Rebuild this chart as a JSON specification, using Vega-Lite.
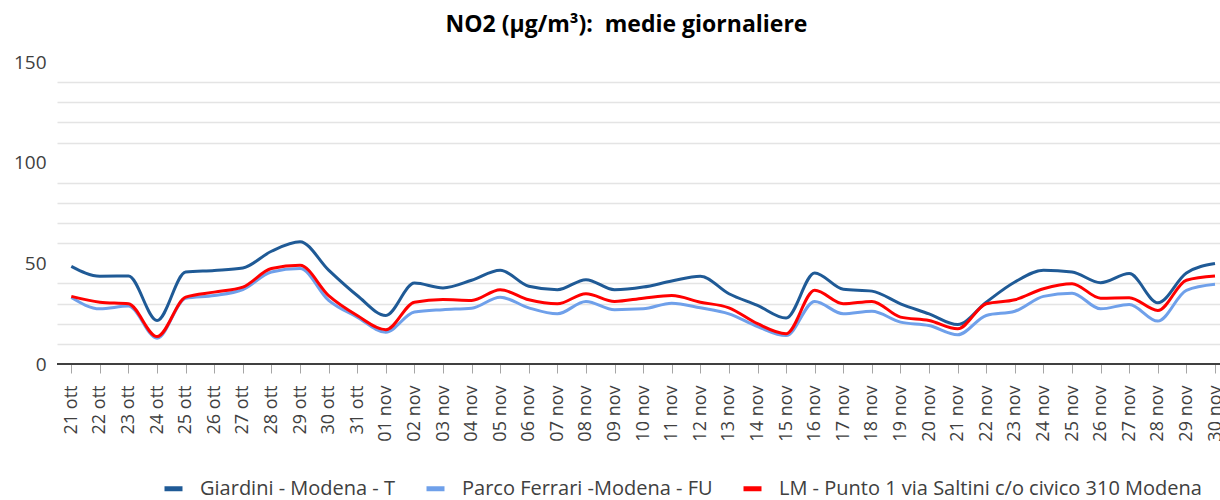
{
  "$schema": "https://vega.github.io/schema/vega-lite/v6.json",
  "autosize": {"type": "none"},
  "width": 1163,
  "height": 302,
  "padding": {"left": 57, "top": 62, "right": 0, "bottom": 136},
  "background": "white",
  "config": {"font": "Open Sans", "view": {"stroke": null}},
  "title": {"text": "NO2 (µg/m³): \u00a0medie giornaliere", "fontSize": 23, "fontWeight": "bold", "color": "#000000", "anchor": "middle", "dx": -12, "offset": 16},
  "resolve": {"axis": {"y": "independent"}},
  "data": {"values": [
    {"d": "21 ott", "s": "Giardini - Modena - T", "v": 48.5},
    {"d": "22 ott", "s": "Giardini - Modena - T", "v": 43.6},
    {"d": "23 ott", "s": "Giardini - Modena - T", "v": 43.7},
    {"d": "24 ott", "s": "Giardini - Modena - T", "v": 21.6},
    {"d": "25 ott", "s": "Giardini - Modena - T", "v": 45.7},
    {"d": "26 ott", "s": "Giardini - Modena - T", "v": 46.5},
    {"d": "27 ott", "s": "Giardini - Modena - T", "v": 47.7},
    {"d": "28 ott", "s": "Giardini - Modena - T", "v": 56},
    {"d": "29 ott", "s": "Giardini - Modena - T", "v": 60.7},
    {"d": "30 ott", "s": "Giardini - Modena - T", "v": 46.6},
    {"d": "31 ott", "s": "Giardini - Modena - T", "v": 34},
    {"d": "01 nov", "s": "Giardini - Modena - T", "v": 24.1},
    {"d": "02 nov", "s": "Giardini - Modena - T", "v": 40.2},
    {"d": "03 nov", "s": "Giardini - Modena - T", "v": 37.8},
    {"d": "04 nov", "s": "Giardini - Modena - T", "v": 41.6},
    {"d": "05 nov", "s": "Giardini - Modena - T", "v": 46.6},
    {"d": "06 nov", "s": "Giardini - Modena - T", "v": 38.6},
    {"d": "07 nov", "s": "Giardini - Modena - T", "v": 36.9},
    {"d": "08 nov", "s": "Giardini - Modena - T", "v": 41.9},
    {"d": "09 nov", "s": "Giardini - Modena - T", "v": 36.9},
    {"d": "10 nov", "s": "Giardini - Modena - T", "v": 38.2},
    {"d": "11 nov", "s": "Giardini - Modena - T", "v": 41.2},
    {"d": "12 nov", "s": "Giardini - Modena - T", "v": 43.6},
    {"d": "13 nov", "s": "Giardini - Modena - T", "v": 34.9},
    {"d": "14 nov", "s": "Giardini - Modena - T", "v": 29.1},
    {"d": "15 nov", "s": "Giardini - Modena - T", "v": 22.8},
    {"d": "16 nov", "s": "Giardini - Modena - T", "v": 45.2},
    {"d": "17 nov", "s": "Giardini - Modena - T", "v": 37.1},
    {"d": "18 nov", "s": "Giardini - Modena - T", "v": 36.2},
    {"d": "19 nov", "s": "Giardini - Modena - T", "v": 29.9},
    {"d": "20 nov", "s": "Giardini - Modena - T", "v": 24.9},
    {"d": "21 nov", "s": "Giardini - Modena - T", "v": 19.6},
    {"d": "22 nov", "s": "Giardini - Modena - T", "v": 30.7},
    {"d": "23 nov", "s": "Giardini - Modena - T", "v": 40.7},
    {"d": "24 nov", "s": "Giardini - Modena - T", "v": 46.6},
    {"d": "25 nov", "s": "Giardini - Modena - T", "v": 45.7},
    {"d": "26 nov", "s": "Giardini - Modena - T", "v": 40.4},
    {"d": "27 nov", "s": "Giardini - Modena - T", "v": 44.9},
    {"d": "28 nov", "s": "Giardini - Modena - T", "v": 30.4},
    {"d": "29 nov", "s": "Giardini - Modena - T", "v": 45.2},
    {"d": "30 nov", "s": "Giardini - Modena - T", "v": 49.9},
    {"d": "21 ott", "s": "Parco Ferrari -Modena - FU", "v": 33},
    {"d": "22 ott", "s": "Parco Ferrari -Modena - FU", "v": 27.4},
    {"d": "23 ott", "s": "Parco Ferrari -Modena - FU", "v": 28.8},
    {"d": "24 ott", "s": "Parco Ferrari -Modena - FU", "v": 12.8},
    {"d": "25 ott", "s": "Parco Ferrari -Modena - FU", "v": 32.7},
    {"d": "26 ott", "s": "Parco Ferrari -Modena - FU", "v": 34},
    {"d": "27 ott", "s": "Parco Ferrari -Modena - FU", "v": 37},
    {"d": "28 ott", "s": "Parco Ferrari -Modena - FU", "v": 45.7},
    {"d": "29 ott", "s": "Parco Ferrari -Modena - FU", "v": 47.4},
    {"d": "30 ott", "s": "Parco Ferrari -Modena - FU", "v": 31.6},
    {"d": "31 ott", "s": "Parco Ferrari -Modena - FU", "v": 23.3},
    {"d": "01 nov", "s": "Parco Ferrari -Modena - FU", "v": 15.8},
    {"d": "02 nov", "s": "Parco Ferrari -Modena - FU", "v": 25.8},
    {"d": "03 nov", "s": "Parco Ferrari -Modena - FU", "v": 27},
    {"d": "04 nov", "s": "Parco Ferrari -Modena - FU", "v": 27.7},
    {"d": "05 nov", "s": "Parco Ferrari -Modena - FU", "v": 33.2},
    {"d": "06 nov", "s": "Parco Ferrari -Modena - FU", "v": 27.9},
    {"d": "07 nov", "s": "Parco Ferrari -Modena - FU", "v": 24.9},
    {"d": "08 nov", "s": "Parco Ferrari -Modena - FU", "v": 31.1},
    {"d": "09 nov", "s": "Parco Ferrari -Modena - FU", "v": 27},
    {"d": "10 nov", "s": "Parco Ferrari -Modena - FU", "v": 27.4},
    {"d": "11 nov", "s": "Parco Ferrari -Modena - FU", "v": 30.2},
    {"d": "12 nov", "s": "Parco Ferrari -Modena - FU", "v": 27.9},
    {"d": "13 nov", "s": "Parco Ferrari -Modena - FU", "v": 24.9},
    {"d": "14 nov", "s": "Parco Ferrari -Modena - FU", "v": 18.6},
    {"d": "15 nov", "s": "Parco Ferrari -Modena - FU", "v": 14.1},
    {"d": "16 nov", "s": "Parco Ferrari -Modena - FU", "v": 31.1},
    {"d": "17 nov", "s": "Parco Ferrari -Modena - FU", "v": 24.9},
    {"d": "18 nov", "s": "Parco Ferrari -Modena - FU", "v": 26.2},
    {"d": "19 nov", "s": "Parco Ferrari -Modena - FU", "v": 20.8},
    {"d": "20 nov", "s": "Parco Ferrari -Modena - FU", "v": 19.1},
    {"d": "21 nov", "s": "Parco Ferrari -Modena - FU", "v": 14.5},
    {"d": "22 nov", "s": "Parco Ferrari -Modena - FU", "v": 24.1},
    {"d": "23 nov", "s": "Parco Ferrari -Modena - FU", "v": 26.2},
    {"d": "24 nov", "s": "Parco Ferrari -Modena - FU", "v": 33.6},
    {"d": "25 nov", "s": "Parco Ferrari -Modena - FU", "v": 35.2},
    {"d": "26 nov", "s": "Parco Ferrari -Modena - FU", "v": 27.4},
    {"d": "27 nov", "s": "Parco Ferrari -Modena - FU", "v": 29.6},
    {"d": "28 nov", "s": "Parco Ferrari -Modena - FU", "v": 21.3},
    {"d": "29 nov", "s": "Parco Ferrari -Modena - FU", "v": 36.6},
    {"d": "30 nov", "s": "Parco Ferrari -Modena - FU", "v": 39.6},
    {"d": "21 ott", "s": "LM - Punto 1 via Saltini c/o civico 310 Modena", "v": 33.6},
    {"d": "22 ott", "s": "LM - Punto 1 via Saltini c/o civico 310 Modena", "v": 30.7},
    {"d": "23 ott", "s": "LM - Punto 1 via Saltini c/o civico 310 Modena", "v": 29.9},
    {"d": "24 ott", "s": "LM - Punto 1 via Saltini c/o civico 310 Modena", "v": 13.6},
    {"d": "25 ott", "s": "LM - Punto 1 via Saltini c/o civico 310 Modena", "v": 33.2},
    {"d": "26 ott", "s": "LM - Punto 1 via Saltini c/o civico 310 Modena", "v": 35.7},
    {"d": "27 ott", "s": "LM - Punto 1 via Saltini c/o civico 310 Modena", "v": 38.2},
    {"d": "28 ott", "s": "LM - Punto 1 via Saltini c/o civico 310 Modena", "v": 47.4},
    {"d": "29 ott", "s": "LM - Punto 1 via Saltini c/o civico 310 Modena", "v": 49},
    {"d": "30 ott", "s": "LM - Punto 1 via Saltini c/o civico 310 Modena", "v": 34},
    {"d": "31 ott", "s": "LM - Punto 1 via Saltini c/o civico 310 Modena", "v": 24.1},
    {"d": "01 nov", "s": "LM - Punto 1 via Saltini c/o civico 310 Modena", "v": 17},
    {"d": "02 nov", "s": "LM - Punto 1 via Saltini c/o civico 310 Modena", "v": 30.7},
    {"d": "03 nov", "s": "LM - Punto 1 via Saltini c/o civico 310 Modena", "v": 32},
    {"d": "04 nov", "s": "LM - Punto 1 via Saltini c/o civico 310 Modena", "v": 31.6},
    {"d": "05 nov", "s": "LM - Punto 1 via Saltini c/o civico 310 Modena", "v": 36.9},
    {"d": "06 nov", "s": "LM - Punto 1 via Saltini c/o civico 310 Modena", "v": 31.9},
    {"d": "07 nov", "s": "LM - Punto 1 via Saltini c/o civico 310 Modena", "v": 29.9},
    {"d": "08 nov", "s": "LM - Punto 1 via Saltini c/o civico 310 Modena", "v": 34.9},
    {"d": "09 nov", "s": "LM - Punto 1 via Saltini c/o civico 310 Modena", "v": 31.1},
    {"d": "10 nov", "s": "LM - Punto 1 via Saltini c/o civico 310 Modena", "v": 32.7},
    {"d": "11 nov", "s": "LM - Punto 1 via Saltini c/o civico 310 Modena", "v": 34},
    {"d": "12 nov", "s": "LM - Punto 1 via Saltini c/o civico 310 Modena", "v": 30.7},
    {"d": "13 nov", "s": "LM - Punto 1 via Saltini c/o civico 310 Modena", "v": 27.9},
    {"d": "14 nov", "s": "LM - Punto 1 via Saltini c/o civico 310 Modena", "v": 20},
    {"d": "15 nov", "s": "LM - Punto 1 via Saltini c/o civico 310 Modena", "v": 15},
    {"d": "16 nov", "s": "LM - Punto 1 via Saltini c/o civico 310 Modena", "v": 36.6},
    {"d": "17 nov", "s": "LM - Punto 1 via Saltini c/o civico 310 Modena", "v": 29.9},
    {"d": "18 nov", "s": "LM - Punto 1 via Saltini c/o civico 310 Modena", "v": 31.1},
    {"d": "19 nov", "s": "LM - Punto 1 via Saltini c/o civico 310 Modena", "v": 23.3},
    {"d": "20 nov", "s": "LM - Punto 1 via Saltini c/o civico 310 Modena", "v": 21.6},
    {"d": "21 nov", "s": "LM - Punto 1 via Saltini c/o civico 310 Modena", "v": 17.5},
    {"d": "22 nov", "s": "LM - Punto 1 via Saltini c/o civico 310 Modena", "v": 29.9},
    {"d": "23 nov", "s": "LM - Punto 1 via Saltini c/o civico 310 Modena", "v": 31.9},
    {"d": "24 nov", "s": "LM - Punto 1 via Saltini c/o civico 310 Modena", "v": 37.4},
    {"d": "25 nov", "s": "LM - Punto 1 via Saltini c/o civico 310 Modena", "v": 39.9},
    {"d": "26 nov", "s": "LM - Punto 1 via Saltini c/o civico 310 Modena", "v": 32.7},
    {"d": "27 nov", "s": "LM - Punto 1 via Saltini c/o civico 310 Modena", "v": 32.9},
    {"d": "28 nov", "s": "LM - Punto 1 via Saltini c/o civico 310 Modena", "v": 26.6},
    {"d": "29 nov", "s": "LM - Punto 1 via Saltini c/o civico 310 Modena", "v": 41.6},
    {"d": "30 nov", "s": "LM - Punto 1 via Saltini c/o civico 310 Modena", "v": 43.7}
  ]},
  "layer": [
    {
      "mark": {"type": "rule", "color": "#404040", "strokeWidth": 2},
      "encoding": {
        "y": {
          "datum": 0, "type": "quantitative",
          "axis": {"orient": "left", "title": null, "domain": false, "ticks": false, "labels": false, "grid": true,
            "values": [10, 20, 30, 40, 60, 70, 80, 90, 110, 120, 130, 140],
            "gridColor": "#e4e4e4", "gridWidth": 1.5}
        }
      }
    },
    {
      "mark": {"type": "line", "interpolate": "monotone", "strokeWidth": 3},
      "encoding": {
        "x": {
          "field": "d", "type": "ordinal", "sort": null,
          "scale": {"type": "point", "range": [14.3, 1158], "padding": 0},
          "axis": {"title": null, "domain": false, "grid": false, "tickColor": "#a6a6a6", "tickSize": 9, "tickWidth": 1, "labelAngle": -90, "labelFontSize": 18, "labelColor": "#404040", "labelPadding": 12}
        },
        "y": {
          "field": "v", "type": "quantitative",
          "scale": {"domain": [0, 150], "nice": false},
          "axis": {
            "orient": "left", "title": null, "domain": false, "ticks": false, "labelOverlap": false,
            "values": [0, 50, 100, 150],
            "labelFontSize": 19, "labelColor": "#404040", "labelPadding": 11,
            "gridColor": "#c8c8c8", "gridWidth": 1.5
          }
        },
        "color": {
          "field": "s", "type": "nominal", "sort": null,
          "scale": {"domain": ["Giardini - Modena - T", "Parco Ferrari -Modena - FU", "LM - Punto 1 via Saltini c/o civico 310 Modena"], "range": ["#1f5a96", "#6fa0ea", "#ff0000"]},
          "legend": {
            "title": null, "orient": "none", "legendX": 105, "legendY": 415, "direction": "horizontal",
            "symbolType": "stroke", "symbolSize": 324, "symbolStrokeWidth": 5,
            "labelFontSize": 20, "labelColor": "#404040", "labelLimit": 0, "labelOffset": 15, "columnPadding": 20
          }
        }
      }
    },
    {
      "mark": {"type": "rule", "color": "#404040", "strokeWidth": 2},
      "encoding": {"y": {"datum": 0, "type": "quantitative", "axis": null}}
    }
  ]
}
